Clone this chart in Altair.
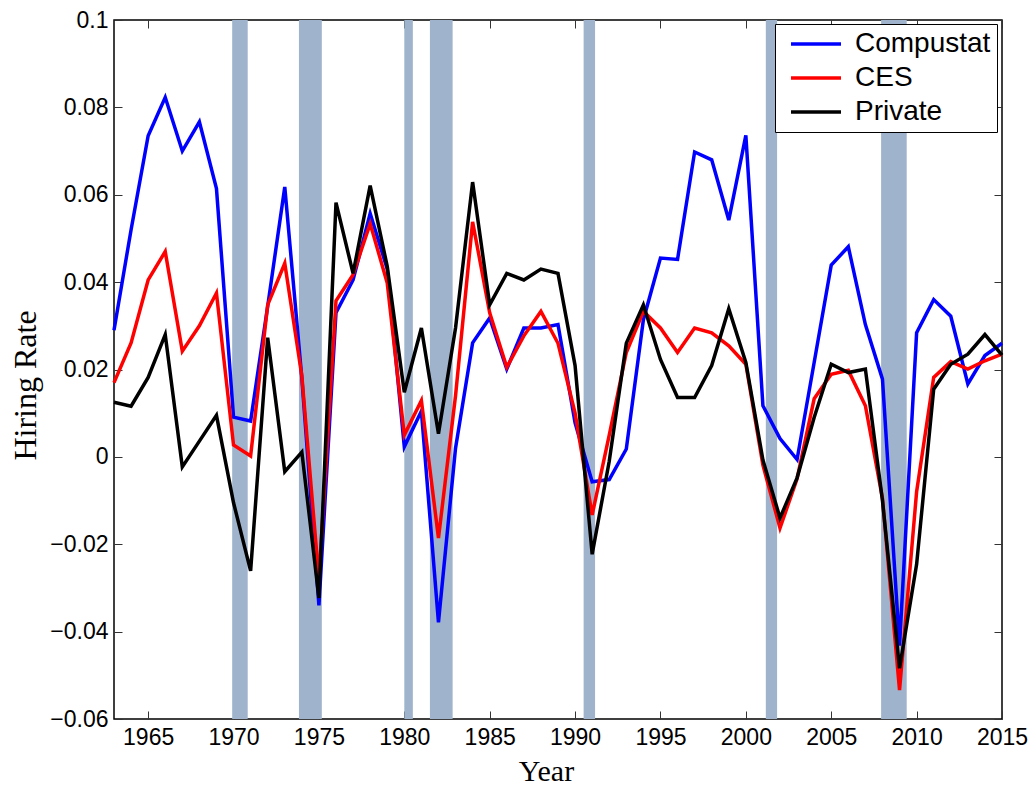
import altair as alt
import pandas as pd

years = list(range(1963, 2016))

compustat = [0.029, 0.052, 0.0735, 0.0823, 0.070, 0.0767, 0.0614, 0.0091, 0.0082, 0.0345,
             0.0618, 0.018, -0.034, 0.033, 0.0405, 0.0557, 0.043, 0.0023, 0.0105, -0.0379,
             0.002, 0.0261, 0.0318, 0.0201, 0.0295, 0.0295, 0.0303, 0.0078, -0.0057, -0.0052,
             0.0018, 0.0314, 0.0455, 0.0452, 0.0698, 0.068, 0.0542, 0.0736, 0.0117, 0.0042,
             -0.0006, 0.0216, 0.0439, 0.0481, 0.0303, 0.0178, -0.0432, 0.0284, 0.036, 0.0322,
             0.0167, 0.0232, 0.026]
ces = [0.017, 0.0261, 0.0405, 0.047, 0.0242, 0.030, 0.0375, 0.0027, 0.0002, 0.0348,
       0.0443, 0.0185, -0.028, 0.0357, 0.0417, 0.0534, 0.0398, 0.005, 0.0129, -0.0186,
       0.014, 0.0538, 0.033, 0.0205, 0.0277, 0.0333, 0.026, 0.010, -0.0133, 0.005,
       0.0239, 0.0333, 0.0295, 0.0239, 0.0295, 0.0284, 0.0254, 0.0212, -0.0019, -0.0163,
       -0.005, 0.0133, 0.0189, 0.0198, 0.0117, -0.0095, -0.0534, -0.008, 0.0182, 0.0218,
       0.0201, 0.022, 0.0235]
private = [0.0125, 0.0116, 0.0182, 0.028, -0.0023, 0.0036, 0.0095, -0.0105, -0.0261, 0.0273,
           -0.0034, 0.0011, -0.0323, 0.0582, 0.042, 0.0621, 0.0436, 0.0148, 0.0295, 0.0053,
           0.0295, 0.0629, 0.0348, 0.042, 0.0405, 0.043, 0.042, 0.0209, -0.0223, -0.001,
           0.026, 0.0348, 0.0223, 0.0136, 0.0136, 0.0209, 0.0339, 0.0216, -0.0007, -0.014,
           -0.0048, 0.009, 0.0212, 0.0193, 0.0201, -0.010, -0.0484, -0.0246, 0.0155, 0.0212,
           0.0235, 0.028, 0.0233]

series_names = ["Compustat", "CES", "Private"]
series_colors = ["#0000ff", "#ff0000", "#000000"]

rec_start = [1969.92, 1973.83, 1980.0, 1981.5, 1990.5, 2001.17, 2007.92]
rec_end = [1970.83, 1975.17, 1980.5, 1982.83, 1991.17, 2001.83, 2009.42]

x_ticks = [1965, 1970, 1975, 1980, 1985, 1990, 1995, 2000, 2005, 2010, 2015]
y_ticks = [-0.06, -0.04, -0.02, 0, 0.02, 0.04, 0.06, 0.08, 0.1]

rows = []
for name, vals in zip(series_names, [compustat, ces, private]):
    for yr, v in zip(years, vals):
        rows.append({"Year": yr, "Rate": v, "Series": name})
lines_df = pd.DataFrame(rows)
rec_df = pd.DataFrame({"start": rec_start, "end": rec_end})

xs = alt.Scale(domain=[1963, 2015], nice=False, zero=False)
ys = alt.Scale(domain=[-0.06, 0.1], nice=False, zero=False)

TICK = 8
label_font = "Liberation Sans"
title_font = "Liberation Serif"

bands = alt.Chart(rec_df).mark_rect(color="#9fb4cc", opacity=1).encode(
    x=alt.X("start:Q", scale=xs,
            axis=alt.Axis(orient="top", values=x_ticks, labels=False, title=None,
                          domain=False, grid=False, tickSize=TICK, offset=-TICK,
                          tickColor="#333333", tickWidth=1)),
    x2="end:Q",
    y=alt.YDatum(-0.06, scale=ys,
                 axis=alt.Axis(orient="right", values=y_ticks, labels=False, title=None,
                               domain=False, grid=False, tickSize=TICK, offset=-TICK,
                               tickColor="#333333", tickWidth=1)),
    y2=alt.Y2Datum(0.1),
)

lines = alt.Chart(lines_df).mark_line(strokeWidth=3.5, strokeJoin="miter").encode(
    x=alt.X("Year:Q", scale=xs,
            axis=alt.Axis(orient="bottom", values=x_ticks, format="d", title="Year",
                          domain=False, grid=False, tickSize=TICK, offset=-TICK,
                          tickColor="#333333", tickWidth=1,
                          labelFont=label_font, labelFontSize=23, labelColor="black",
                          labelPadding=7, labelFlush=False,
                          titleFont=title_font, titleFontSize=30, titleFontWeight="normal",
                          titleColor="black", titleX=432, titleY=69,
                          titleBaseline="alphabetic", titleAnchor="start", titleAlign="center")),
    y=alt.Y("Rate:Q", scale=ys,
            axis=alt.Axis(orient="left", values=y_ticks, format=".2~f", title="Hiring Rate",
                          domain=False, grid=False, tickSize=TICK, offset=-TICK,
                          tickColor="#333333", tickWidth=1,
                          labelFont=label_font, labelFontSize=23, labelColor="black",
                          labelPadding=6, labelFlush=False,
                          titleFont=title_font, titleFontSize=32, titleFontWeight="normal",
                          titleColor="black", titleX=-97, titleY=365,
                          titleBaseline="middle", titleAlign="center", titleAngle=-90)),
    color=alt.Color("Series:N",
                    scale=alt.Scale(domain=series_names, range=series_colors),
                    sort=series_names,
                    legend=alt.Legend(orient="none", legendX=661, legendY=4, title=None,
                                      symbolType="M-2.5,0L2.5,0", symbolSize=400,
                                      symbolStrokeWidth=3.5, symbolOffset=21,
                                      labelFont=label_font, labelFontSize=28,
                                      labelColor="black", labelOffset=25,
                                      rowPadding=6, padding=6, fillColor="white",
                                      strokeColor="black", labelLimit=0)),
    order=alt.Order("Year:Q"),
)

chart = alt.layer(bands, lines).resolve_axis(x="independent", y="independent").properties(
    width=888, height=699,
    autosize=alt.AutoSizeParams(type="none"),
    padding={"left": 106, "top": 12, "right": 26, "bottom": 66},
).configure_view(stroke="black", strokeWidth=1.5)

chart.save("out.html", embed_options={"renderer": "svg", "actions": False})
